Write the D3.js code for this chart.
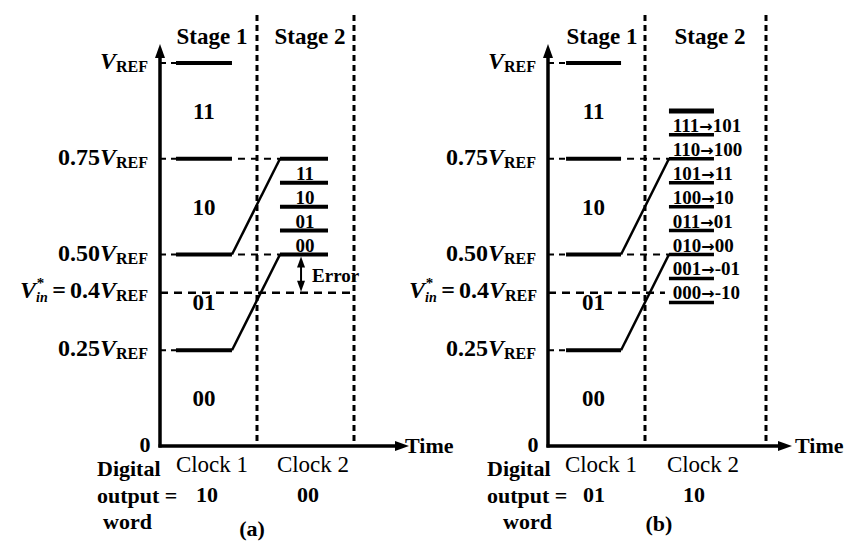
<!DOCTYPE html>
<html><head><meta charset="utf-8">
<script src="https://cdn.jsdelivr.net/npm/d3@7"></script>
<style>
body{margin:0;background:#fff}
svg text{font-family:"Liberation Serif","Times New Roman",serif;font-weight:bold;fill:#000}
</style>
</head><body>
<svg id="c" width="848" height="542"></svg>
<script>
// ---- data ----
const levels = [0, 0.25, 0.5, 0.75, 1];
const levelNums = ["0", "0.25", "0.50", "0.75", ""];
const stage1Codes = ["00", "01", "10", "11"];
const vin = 0.4;
const rampFrom = [0.25, 0.5];
const rampTo = [0.5, 0.75];
const stage2LevelsA = [0.5, 0.5625, 0.625, 0.6875, 0.75];
const stage2CodesA = ["00", "01", "10", "11"];
const stage2LevelsB = [0.375, 0.4375, 0.5, 0.5625, 0.625, 0.6875, 0.75, 0.8125, 0.875];
const stage2CodesB = ["000", "001", "010", "011", "100", "101", "110", "111"];
const stage2CorrB = ["-10", "-01", "00", "01", "10", "11", "100", "101"];
const stageNames = ["Stage 1", "Stage 2"];
const clockNames = ["Clock 1", "Clock 2"];
const outputA = ["10", "00"];
const outputB = ["01", "10"];
const panelNames = ["(a)", "(b)"];

// ---- layout ----
const svg = d3.select("#c");
const y = d3.scaleLinear().domain([0, 1]).range([446, 63]);

const panels = [
  {x: [160, 257, 354], arrowEnd: 409, s1a: 0.165, s1b: 0.742, rampEnd: 1.237, s2End: 1.732, vinEnd: 2,
   levels2: stage2LevelsA, name: panelNames[0], out: outputA, vinX: 148, timeX: 405,
   stageX: [212, 310], clockX: [212, 313], outX: [207, 308], leftX: 97, wordX: 103, nameX: 252, nameY: 536},
  {x: [548, 645, 766], arrowEnd: 792, s1a: 0.186, s1b: 0.753, rampEnd: 1.198, s2End: 1.57, vinEnd: 1.165,
   levels2: stage2LevelsB, name: panelNames[1], out: outputB, vinX: 537, timeX: 795,
   stageX: [602, 710], clockX: [601, 703], outX: [594, 694], leftX: 487, wordX: 503, nameX: 659, nameY: 531}
];

function refLabel(g, x, yy, prefix) {
  const t = g.append("text").attr("x", x).attr("y", yy).attr("text-anchor", "end").style("font-size", "24px");
  if (prefix) t.append("tspan").text(prefix);
  t.append("tspan").style("font-style", "italic").text("V");
  t.append("tspan").attr("dy", 3).style("font-size", "16px").text("REF");
}

panels.forEach((p, pi) => {
  const g = svg.append("g");
  const x = d3.scaleLinear().domain([0, 1, 2]).range(p.x);
  const y0 = y(0);

  // dividers
  [1, 2].forEach(t => {
    g.append("line").attr("x1", x(t)).attr("x2", x(t)).attr("y1", 15).attr("y2", y0)
      .attr("stroke", "#000").attr("stroke-width", 3).attr("stroke-dasharray", "6,4");
  });

  // dashed guides from axis to stage-1 bars
  levels.slice(1).forEach(v => {
    g.append("line").attr("x1", x(0)).attr("x2", x(p.s1a)).attr("y1", y(v)).attr("y2", y(v))
      .attr("stroke", "#000").attr("stroke-width", 2).attr("stroke-dasharray", "6,5");
  });
  // dashed continuation to residue levels
  rampTo.forEach(v => {
    g.append("line").attr("x1", x(p.s1b) + 6).attr("x2", x(p.rampEnd)).attr("y1", y(v)).attr("y2", y(v))
      .attr("stroke", "#000").attr("stroke-width", 2).attr("stroke-dasharray", "7,6");
  });
  // vin line
  g.append("line").attr("x1", x(0)).attr("x2", x(p.vinEnd)).attr("y1", y(vin)).attr("y2", y(vin))
    .attr("stroke", "#000").attr("stroke-width", 2.5).attr("stroke-dasharray", "8,6");

  // axes
  g.append("line").attr("x1", x(0)).attr("x2", x(0)).attr("y1", y0 + 1.5).attr("y2", 54)
    .attr("stroke", "#000").attr("stroke-width", 3.5);
  g.append("path").attr("d", `M${x(0)},44 L${x(0) - 5},58 L${x(0) + 5},58 Z`).attr("fill", "#000");
  g.append("line").attr("x1", x(0) - 1.5).attr("x2", p.arrowEnd - 10).attr("y1", y0).attr("y2", y0)
    .attr("stroke", "#000").attr("stroke-width", 3.5);
  g.append("path").attr("d", `M${p.arrowEnd},${y0} L${p.arrowEnd - 14},${y0 - 5} L${p.arrowEnd - 14},${y0 + 5} Z`).attr("fill", "#000");

  // stage-1 decision bars
  levels.slice(1).forEach(v => {
    g.append("line").attr("x1", x(p.s1a)).attr("x2", x(p.s1b)).attr("y1", y(v)).attr("y2", y(v))
      .attr("stroke", "#000").attr("stroke-width", 4);
  });
  // ramps (residue)
  rampFrom.forEach((v, i) => {
    g.append("line").attr("x1", x(p.s1b)).attr("y1", y(v)).attr("x2", x(p.rampEnd)).attr("y2", y(rampTo[i]))
      .attr("stroke", "#000").attr("stroke-width", 2.5);
  });

  // stage-1 region codes
  stage1Codes.forEach((c, i) => {
    g.append("text").attr("x", x((p.s1a + p.s1b) / 2)).attr("y", y((levels[i] + levels[i + 1]) / 2) + 8)
      .attr("text-anchor", "middle").style("font-size", "23px").text(c);
  });

  // tick labels
  levels.slice(1).forEach((v, i) => refLabel(g, x(0) - 12, y(v) + 6, levelNums[i + 1]));
  g.append("text").attr("x", x(0) - 15).attr("y", y0 + 6).attr("text-anchor", "middle").style("font-size", "22px").text(levelNums[0]);

  // Vin label
  const vt = g.append("text").attr("x", p.vinX).attr("y", y(vin) + 5).attr("text-anchor", "end").style("font-size", "24px");
  vt.append("tspan").style("font-style", "italic").text("V");
  vt.append("tspan").attr("dy", 4).style("font-size", "14px").style("font-style", "italic").text("in");
  vt.append("tspan").attr("dx", -11).attr("dy", -14).style("font-size", "15px").text("*");
  vt.append("tspan").attr("dx", 8).attr("dy", 10).text("=");
  vt.append("tspan").attr("dx", 4).text("0.4");
  vt.append("tspan").style("font-style", "italic").text("V");
  vt.append("tspan").attr("dy", 3).style("font-size", "16px").text("REF");

  // stage 2
  const l2 = p.levels2;
  l2.forEach((v, i) => {
    const thick = (pi === 1 && (i === l2.length - 1)) ? 5 : (pi === 0 ? 4 : 3.5);
    g.append("line").attr("x1", x(p.rampEnd)).attr("x2", x(p.s2End)).attr("y1", y(v)).attr("y2", y(v))
      .attr("stroke", "#000").attr("stroke-width", thick);
  });
  if (pi === 0) {
    stage2CodesA.forEach((c, i) => {
      g.append("text").attr("x", x(1.495)).attr("y", y(l2[i]) - 3).attr("text-anchor", "middle")
        .style("font-size", "19px").text(c);
    });
    const ax = x(1.454);
    g.append("line").attr("x1", ax).attr("x2", ax).attr("y1", y(0.5) + 12).attr("y2", y(vin) - 10)
      .attr("stroke", "#000").attr("stroke-width", 2);
    g.append("path").attr("d", `M${ax},${y(0.5) + 2} L${ax - 4},${y(0.5) + 13} L${ax + 4},${y(0.5) + 13} Z`).attr("fill", "#000");
    g.append("path").attr("d", `M${ax},${y(vin) - 1} L${ax - 4},${y(vin) - 12} L${ax + 4},${y(vin) - 12} Z`).attr("fill", "#000");
    g.append("text").attr("x", ax + 11).attr("y", 282).style("font-size", "19px").text("Error");
  } else {
    stage2CodesB.forEach((c, i) => {
      const t = g.append("text").attr("x", x(1.23)).attr("y", y(l2[i]) - 3).style("font-size", "19px");
      t.append("tspan").text(c);
      t.append("tspan").style("font-family", "DejaVu Sans").style("font-size", "16px").text("\u2192");
      t.append("tspan").text(stage2CorrB[i]);
    });
  }

  // texts
  stageNames.forEach((s, i) => g.append("text").attr("x", p.stageX[i]).attr("y", 44).attr("text-anchor", "middle").style("font-size", "23px").text(s));
  clockNames.forEach((s, i) => g.append("text").attr("x", p.clockX[i]).attr("y", 472).attr("text-anchor", "middle").style("font-size", "23px").style("font-weight", "normal").text(s));
  p.out.forEach((s, i) => g.append("text").attr("x", p.outX[i]).attr("y", 502).attr("text-anchor", "middle").style("font-size", "22px").text(s));
  g.append("text").attr("x", p.leftX).attr("y", 476).style("font-size", "22px").text("Digital");
  g.append("text").attr("x", p.leftX).attr("y", 503).style("font-size", "22px").text("output =");
  g.append("text").attr("x", p.wordX).attr("y", 529).style("font-size", "22px").text("word");
  g.append("text").attr("x", p.nameX).attr("y", p.nameY).attr("text-anchor", "middle").style("font-size", "22px").text(p.name);
  g.append("text").attr("x", p.timeX).attr("y", y0 + 7).style("font-size", "22px").text("Time");
});
</script>
</body></html>
